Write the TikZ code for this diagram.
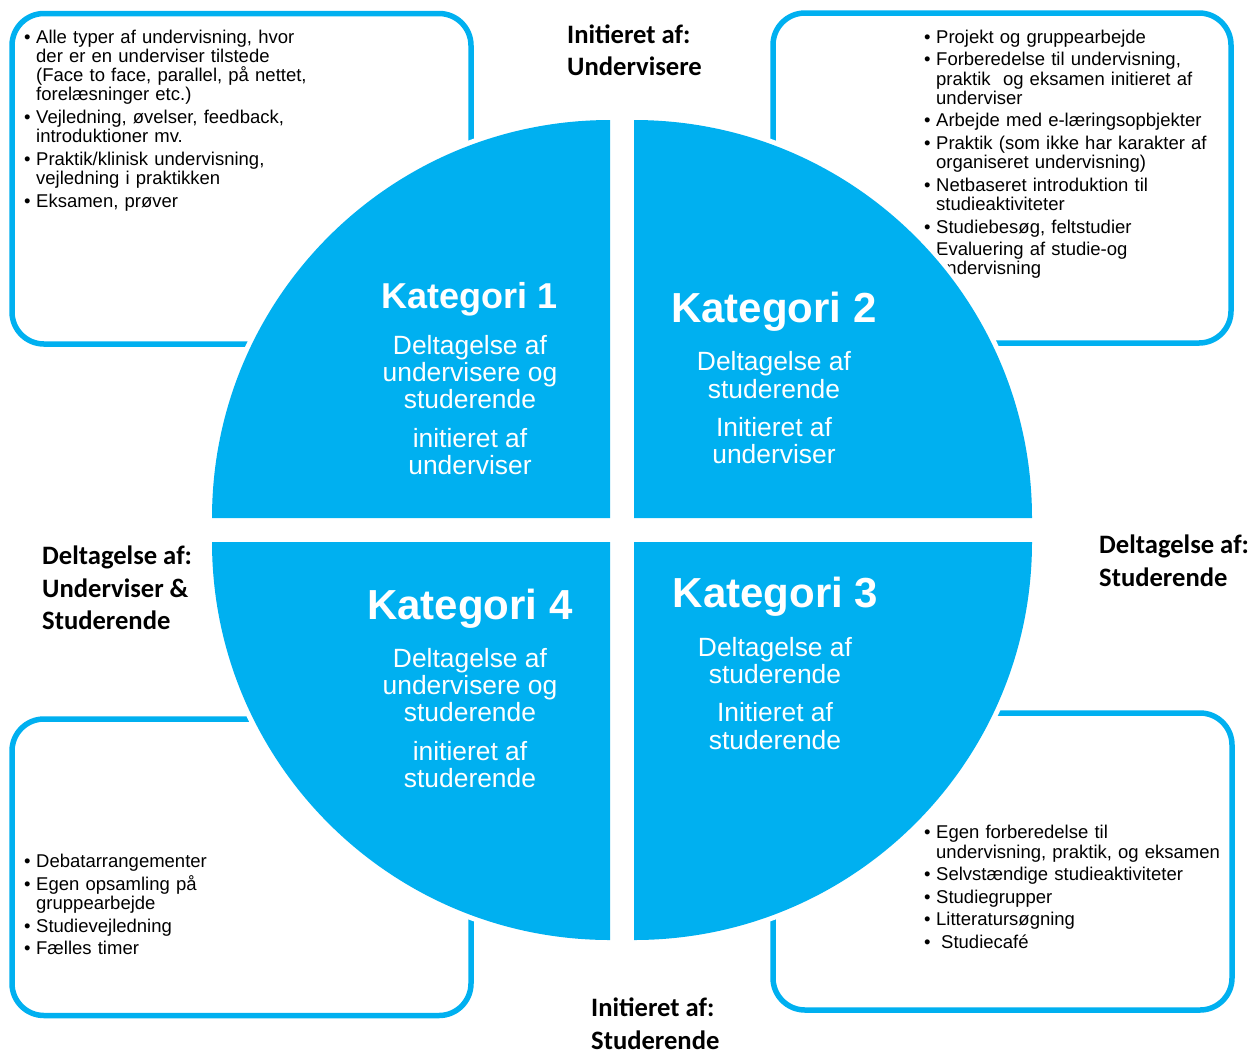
\documentclass[tikz,border=0pt]{standalone}
\usepackage{fontspec}
\setmainfont{Liberation Sans}
\newfontfamily\carlito{Carlito}
\definecolor{katblue}{HTML}{00B0F0}
\newcommand{\bul}[1]{\par\hangindent=12pt\hangafter=1\noindent\makebox[12pt][l]{\textbullet}#1\par}
\newcommand{\nobul}[1]{\par\hangindent=12pt\hangafter=1\noindent\makebox[12pt][l]{}#1\par}
\begin{document}
\begin{tikzpicture}[x=1pt,y=-1pt,
  box/.style={draw=katblue,line width=5.5pt,rounded corners=32pt},
  list/.style={anchor=north west,inner sep=0pt,text width=310pt,font=\fontsize{18.5}{19.2}\selectfont,execute at begin node={\setlength{\parskip}{3.4pt}}},
  quarter/.style={fill=katblue,preaction={draw=white,line width=10pt}},
  title/.style={anchor=base,text=white,font=\bfseries\fontsize{42}{44}\selectfont},
  sub/.style={anchor=north,align=center,inner sep=0pt,text=white,font=\fontsize{26.4}{27.3}\selectfont},
  corner/.style={anchor=north west,align=left,inner sep=0pt,font=\carlito\bfseries\fontsize{26.6}{32.5}\selectfont}]
\fill[white] (0,0) rectangle (1252,1053);
\draw[box] (12,13.5) rectangle (471,344);
\draw[box] (773,13) rectangle (1231,343);
\draw[box] (12,719) rectangle (471,1015.5);
\draw[box] (773,713) rectangle (1232,1010);
\node[list] (listA) at (24,20.5) {\bul{Alle typer af undervisning, hvor\newline der er en underviser tilstede\newline (Face to face, parallel, på nettet,\newline forelæsninger etc.)}\bul{Vejledning, øvelser, feedback,\newline introduktioner mv.}\bul{Praktik/klinisk undervisning,\newline vejledning i praktikken}\bul{Eksamen, prøver}};
\node[list] (listB) at (924,20.5) {\bul{Projekt og gruppearbejde}\bul{Forberedelse til undervisning,\newline praktik\ \ og eksamen initieret af\newline underviser}\bul{Arbejde med e-læringsopbjekter}\bul{Praktik (som ikke har karakter af\newline organiseret undervisning)}\bul{Netbaseret introduktion til\newline studieaktiviteter}\bul{Studiebesøg, feltstudier}\nobul{Evaluering af studie-og\newline undervisning}};
\node[list] (listD) at (24,845) {\bul{Debatarrangementer}\bul{Egen opsamling på\newline gruppearbejde}\bul{Studievejledning}\bul{Fælles timer}};
\node[list] (listC) at (924,816) {\bul{Egen forberedelse til\newline undervisning, praktik, og eksamen}\bul{Selvstændige studieaktiviteter}\bul{Studiegrupper}\bul{Litteratursøgning}\bul{\hspace{5pt}Studiecafé}};
\path[quarter] (610,518) -- (212,518) arc[start angle=180,end angle=270,radius=398] -- cycle;
\path[quarter] (634,518) -- (1032,518) arc[start angle=0,end angle=-90,radius=398] -- cycle;
\path[quarter] (634,542) -- (1032,542) arc[start angle=0,end angle=90,radius=398] -- cycle;
\path[quarter] (610,542) -- (212,542) arc[start angle=180,end angle=90,radius=398] -- cycle;
\node[title,font=\bfseries\fontsize{36}{38}\selectfont] (kat1) at (470,308) {Kategori 1};
\node[sub] (kat1txt) at (470,335) {Deltagelse af\\undervisere og\\studerende\\[11pt]initieret af\\underviser};
\node[title] (kat2) at (774,322) {Kategori 2};
\node[sub] (kat2txt) at (774,351.5) {Deltagelse af\\studerende\\[11pt]Initieret af\\underviser};
\node[title] (kat3) at (775.5,607) {Kategori 3};
\node[sub] (kat3txt) at (775,637) {Deltagelse af\\studerende\\[11pt]Initieret af\\studerende};
\node[title] (kat4) at (470,619) {Kategori 4};
\node[sub] (kat4txt) at (470,648) {Deltagelse af\\undervisere og\\studerende\\[11pt]initieret af\\studerende};
\node[corner] (initU) at (567,24.5) {Initieret af:\\Undervisere};
\node[corner] (deltUS) at (42,546) {Deltagelse af:\\Underviser \&\\Studerende};
\node[corner] (deltS) at (1099,535) {Deltagelse af:\\Studerende};
\node[corner] (initS) at (591,998) {Initieret af:\\Studerende};
\end{tikzpicture}
\end{document}
